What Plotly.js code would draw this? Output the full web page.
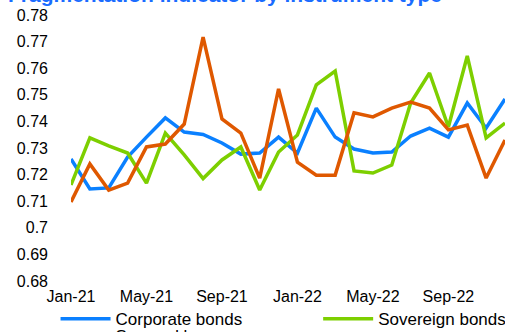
<!DOCTYPE html>
<html><head><meta charset="utf-8">
<script src="https://cdn.plot.ly/plotly-3.0.1.min.js"></script>
<style>html,body{margin:0;padding:0;background:#fff;overflow:hidden}#chart{width:505px;height:332px}</style>
</head><body><div id="chart"></div>
<script>
const months = ["Jan-21","Feb-21","Mar-21","Apr-21","May-21","Jun-21","Jul-21","Aug-21","Sep-21","Oct-21","Nov-21","Dec-21",
                "Jan-22","Feb-22","Mar-22","Apr-22","May-22","Jun-22","Jul-22","Aug-22","Sep-22","Oct-22","Nov-22","Dec-22"];
const tickLabels = ["Jan-21","May-21","Sep-21","Jan-22","May-22","Sep-22"];
const corporateBonds = [0.7259,0.7146,0.7150,0.7266,0.7341,0.7413,0.7360,0.7351,0.7319,0.7277,0.7281,0.7341,
                        0.7281,0.7450,0.7341,0.7296,0.7281,0.7285,0.7345,0.7375,0.7341,0.7469,0.7375,0.7484];
const sovereignBonds = [0.7161,0.7338,0.7308,0.7281,0.7168,0.7356,0.7274,0.7185,0.7255,0.7304,0.7142,0.7285,
                        0.7349,0.7537,0.7589,0.7214,0.7206,0.7236,0.7469,0.7582,0.7379,0.7646,0.7338,0.7394];
const securedLoans = [0.7097,0.7240,0.7142,0.7168,0.7304,0.7315,0.7390,0.7717,0.7409,0.7356,0.7187,0.7522,
                      0.7247,0.7198,0.7198,0.7432,0.7417,0.7450,0.7473,0.7450,0.7368,0.7386,0.7187,0.7330];
const seriesNames = ["Corporate bonds","Sovereign bonds","Secured loans"];
const colors = ["#0a80ff","#7dcf00","#df5800"];
const legendIds = ["legend","legend2","legend3"];
const FONT = "Liberation Sans, Arial, sans-serif";

const data = [corporateBonds, sovereignBonds, securedLoans].map((ys, i) => ({
  x: months, y: ys, type: "scatter", mode: "lines", name: seriesNames[i], legend: legendIds[i],
  line: {color: colors[i], width: 3.5}
}));

function legendBox(x, y) {
  return {xref: "container", yref: "container", x: x, y: y, xanchor: "left", yanchor: "top",
          itemwidth: 50, font: {family: FONT, size: 17, color: "#000"}, bgcolor: "rgba(0,0,0,0)"};
}

const layout = {
  width: 505, height: 332,
  margin: {l: 71, r: 0, t: 15, b: 51, autoexpand: false},
  paper_bgcolor: "#fff", plot_bgcolor: "#fff",
  font: {family: FONT, size: 16, color: "#000"},
  showlegend: true,
  xaxis: {type: "category", range: [0, 23], showgrid: false, zeroline: false, showline: false, automargin: false,
          tickmode: "array", tickvals: tickLabels, ticktext: tickLabels, ticks: "", ticklabelstandoff: 4, tickangle: 0,
          tickfont: {family: FONT, size: 16, color: "#000"}},
  yaxis: {range: [0.68, 0.78], dtick: 0.01, tick0: 0.68, showgrid: false, zeroline: false, showline: false, automargin: false,
          ticks: "", ticklabelstandoff: 22, tickfont: {family: FONT, size: 16, color: "#000"}},
  legend: legendBox(0.11, 0.093),
  legend2: legendBox(0.63, 0.093),
  legend3: legendBox(0.11, 0.042),
  annotations: [{text: "<b>Fragmentation indicator by instrument type</b>", xref: "paper", yref: "paper",
                 x: -0.15, y: 1, xanchor: "left", yanchor: "bottom", yshift: 7, showarrow: false,
                 font: {family: FONT, size: 21, color: "#1a6cff"}}]
};
Plotly.newPlot("chart", data, layout, {displayModeBar: false, staticPlot: true});
</script></body></html>
